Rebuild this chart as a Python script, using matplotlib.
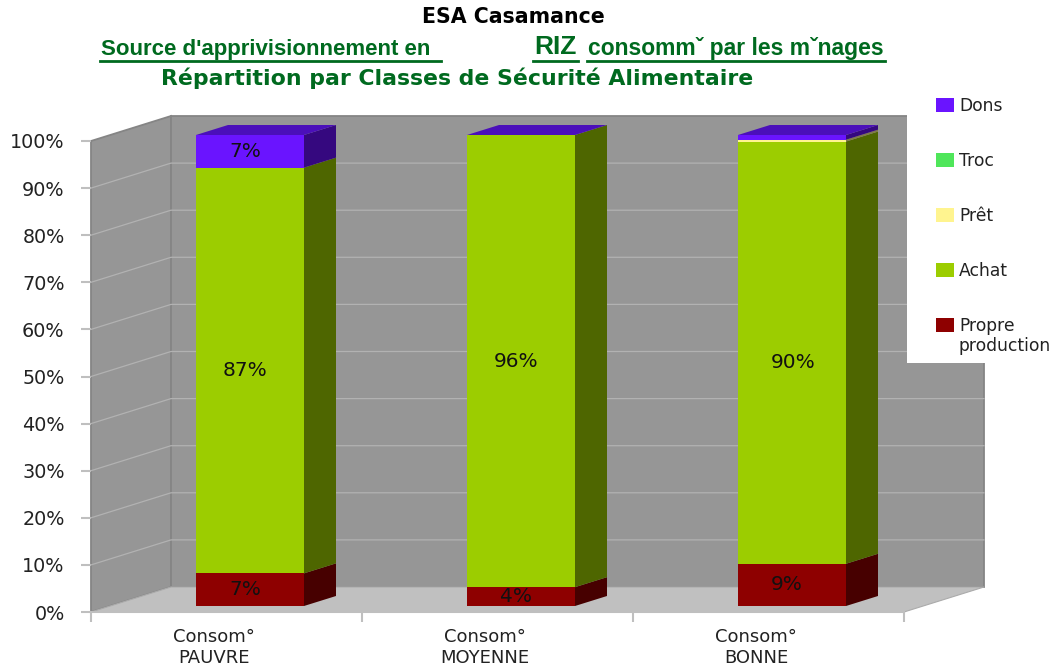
import matplotlib
matplotlib.use('Agg')
import matplotlib.pyplot as plt
from matplotlib.lines import Line2D
from matplotlib.patches import Polygon, Rectangle

W, H = 1052, 667

categories = ['Consom°\nPAUVRE', 'Consom°\nMOYENNE', 'Consom°\nBONNE']
propre = [7, 4, 9]
achat = [87, 96, 90]
pret = [0, 0, 0.4]
troc = [0, 0, 0]
dons = [7, 0, 1]

series = [propre, achat, pret, troc, dons]
noms = ['Propre\nproduction', 'Achat', 'Prêt', 'Troc', 'Dons']
face = ['#8E0000', '#9CCD00', '#FFF48F', '#4FE65A', '#6A14FF']
cote = ['#470000', '#4E6600', '#807A48', '#28732D', '#35087F']
dessus_couleur = '#4B0FBA'

yticks = [0, 10, 20, 30, 40, 50, 60, 70, 80, 90, 100]

plt.rcParams['font.family'] = ['DejaVu Sans']

fig = plt.figure(figsize=(W / 100, H / 100), dpi=100)
# 271 px par categorie, 4.71 px par pourcent
ax = fig.add_axes([91 / W, (H - 612) / H, 813 / W, 471 / H])
ax.set_xlim(0, 3)
ax.set_ylim(0, 100)
ax.patch.set_visible(False)
for s in ax.spines.values():
    s.set_visible(False)

# profondeur du mur et des barres, en unites de donnees
px_x = 1 / 271
px_y = 1 / 4.71
mur_dx, mur_dy = 80 * px_x, 25 * px_y
bar_dx, bar_dy = 32 * px_x, 10 * px_y
off_dx, off_dy = 23.5 * px_x, 6 * px_y
largeur = 108 * px_x


def poly(pts, color, z, edge='none', lw=0):
    ax.add_patch(Polygon(pts, closed=True, facecolor=color, edgecolor=edge, linewidth=lw,
                         zorder=z, clip_on=False))


# murs et sol
poly([(0, 0), (mur_dx, mur_dy), (mur_dx, 100 + mur_dy), (0, 100)], '#969696', 1, '#858585', 1.3)
poly([(mur_dx, mur_dy), (3 + mur_dx, mur_dy), (3 + mur_dx, 100 + mur_dy), (mur_dx, 100 + mur_dy)],
     '#969696', 1, '#858585', 1.3)
poly([(0, 0), (3, 0), (3 + mur_dx, mur_dy), (mur_dx, mur_dy)], '#C0C0C0', 1.5, '#ABABAB', 0.8)

for y in yticks[1:-1]:
    ax.plot([0, mur_dx, 3 + mur_dx], [y, y + mur_dy, y + mur_dy], color='#B2B2B2', lw=0.9,
            zorder=2, clip_on=False)

# barres empilees, ramenees a 100 %
for i in range(3):
    total = sum(s[i] for s in series)
    x0 = i + 0.5 - largeur / 2 + off_dx
    x1 = x0 + largeur
    bas = off_dy
    for k, s in enumerate(series):
        h = s[i] * 100 / total
        if h == 0:
            continue
        haut = bas + h
        poly([(x0, bas), (x1, bas), (x1, haut), (x0, haut)], face[k], 3)
        poly([(x1, bas), (x1 + bar_dx, bas + bar_dy), (x1 + bar_dx, haut + bar_dy), (x1, haut)],
             cote[k], 3)
        bas = haut
    poly([(x0, bas), (x1, bas), (x1 + bar_dx, bas + bar_dy), (x0 + bar_dx, bas + bar_dy)],
         dessus_couleur, 3)

# etiquettes de valeurs
xc = [i + 0.5 + off_dx - 5 * px_x for i in range(3)]
for i in range(3):
    total = sum(s[i] for s in series)
    bas = off_dy
    for k, s in enumerate(series):
        h = s[i] * 100 / total
        if s[i] >= 2:
            xt, yt = xc[i], bas + h / 2
            if k == 1 and i == 2:
                # 90% un peu plus bas et a droite
                xt += 6 * px_x
                yt -= 2
            ax.text(xt, yt, '%d%%' % s[i], ha='center', va='center', fontsize=14.5,
                    color='#111111', zorder=5)
        bas += h

# axes
ax.set_yticks(yticks)
ax.set_yticklabels(['%d%%' % y for y in yticks])
ax.set_xticks([0, 1, 2, 3])
ax.set_xticklabels([])
ax.set_xticks([i + 0.455 for i in range(3)], categories, minor=True)
ax.tick_params(axis='both', which='major', color='#BFBFBF', width=1.5, length=7)
ax.tick_params(axis='y', labelsize=13.8, labelcolor='#222222', pad=12)
ax.tick_params(axis='x', which='minor', length=0, labelsize=13, labelcolor='#222222', pad=11.2)
for lab in ax.get_xticklabels(minor=True):
    lab.set_linespacing(1.25)
ax.plot([0, 3], [0, 0], color='#BFBFBF', lw=1.5, zorder=2, clip_on=False)


# coordonnees en pixels pour la legende et les titres
def fx(x):
    return x / W


def fy(y):
    return 1 - y / H


# legende
fig.add_artist(Rectangle((fx(907), fy(363)), 145 / W, 273 / H, transform=fig.transFigure,
                         facecolor='white', edgecolor='none', zorder=10))
pos_y = [325, 270, 215, 160, 105]
for k in range(5):
    fig.add_artist(Rectangle((fx(936), fy(pos_y[k] + 7)), 18 / W, 14 / H, transform=fig.transFigure,
                             facecolor=face[k], edgecolor='none', zorder=11))
    fig.text(fx(959), fy(pos_y[k] - 8), noms[k], fontsize=12.3, color='#222222', ha='left', va='top',
             linespacing=1.15, zorder=11)

# titres
vert = '#006A1F'
fig.text(fx(513.5), fy(17), 'ESA Casamance', fontsize=14.8, fontweight='bold', color='black',
         ha='center', va='center')
fig.text(fx(101), fy(49), "Source d'apprivisionnement en", family='Liberation Sans', fontsize=16,
         fontweight='bold', color=vert, ha='left', va='center')
fig.text(fx(534), fy(47), 'RIZ', family='Liberation Sans', fontsize=19, fontweight='bold', color=vert,
         ha='left', va='center')
fig.text(fx(588), fy(49), 'consommˇ par les mˇnages', family='Liberation Sans', fontsize=16.5,
         fontweight='bold', color=vert, ha='left', va='center')
fig.text(fx(161), fy(78), 'Répartition par Classes de Sécurité Alimentaire', fontsize=15.85,
         fontweight='bold', color=vert, ha='left', va='center')
for a, b in [(100, 441), (533, 578), (587, 885)]:
    fig.add_artist(Line2D([fx(a), fx(b)], [fy(60.5), fy(60.5)], color=vert, lw=2, transform=fig.transFigure))

fig.savefig('out.png', dpi=100)
